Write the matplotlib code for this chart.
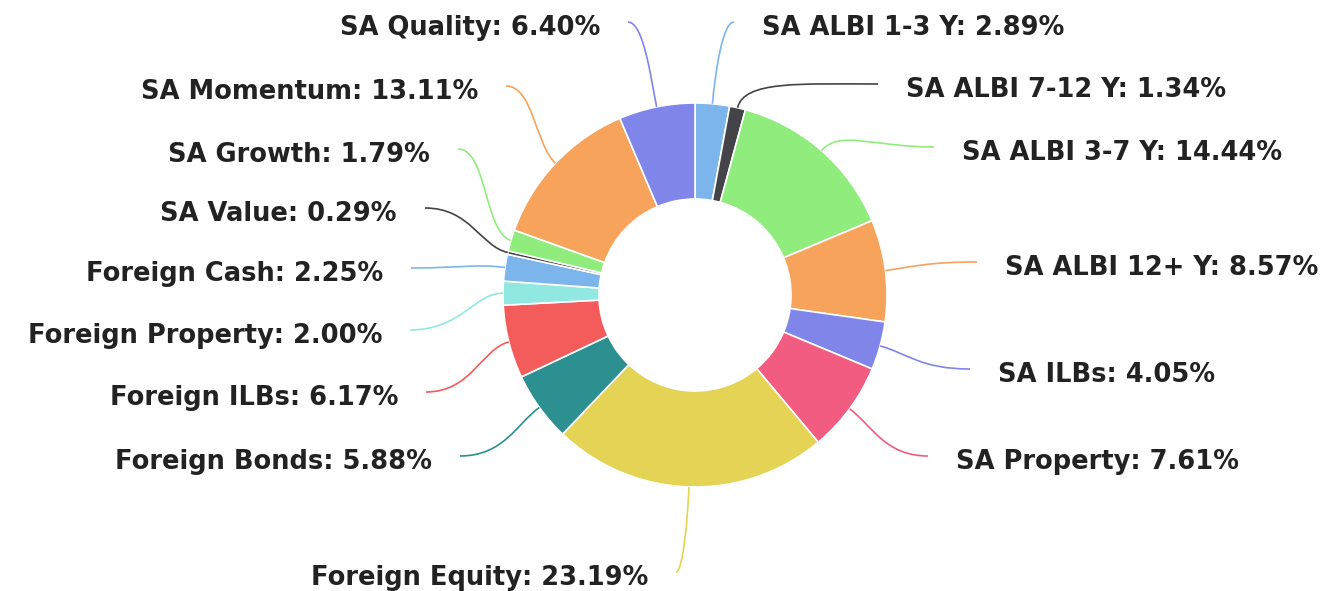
import numpy as np
import matplotlib
matplotlib.use('Agg')
import matplotlib.pyplot as plt
from matplotlib.path import Path
from matplotlib.patches import PathPatch

# data, clockwise from 12 o'clock
names=['SA ALBI 1-3 Y','SA ALBI 7-12 Y','SA ALBI 3-7 Y','SA ALBI 12+ Y','SA ILBs',
  'SA Property','Foreign Equity','Foreign Bonds','Foreign ILBs','Foreign Property',
  'Foreign Cash','SA Value','SA Growth','SA Momentum','SA Quality']
weights=[2.89,1.34,14.44,8.57,4.05,7.61,23.19,5.88,6.17,2.00,2.25,0.29,1.79,13.11,6.40]
colors=['#7cb5ec','#434348','#90ed7d','#f7a35c','#8085e9','#f15c80','#e4d354',
  '#2b908f','#f45b5b','#91e8e1','#7cb5ec','#434348','#90ed7d','#f7a35c','#8085e9']

# layout (pixels, y from top): label anchor x, label y, side (+1 right / -1 left)
W,H=1337,591
CX,CY,R=695,295,192
label_x=[762,906,962,1005,998,956,648,432,398,382,383,397,430,478,600]
label_y=[28,90,153,268,375,462,578,462,398,336,274,214,155,92,28]
side=[1,1,1,1,1,1,-1,-1,-1,-1,-1,-1,-1,-1,-1]

fig=plt.figure(figsize=(W/100,H/100),dpi=100)
ax=fig.add_axes([0,0,1,1])
ax.pie(weights,colors=colors,startangle=90,counterclock=False,center=(CX,H-CY),
  radius=R,wedgeprops=dict(width=R*0.5,edgecolor='white',linewidth=1.2))
ax.set_xlim(0,W); ax.set_ylim(0,H)
ax.set_aspect('equal')
ax.axis('off')

cum=np.cumsum([0]+weights[:-1])
total=sum(weights)
for i,nm in enumerate(names):
  mid=(cum[i]+weights[i]/2)/total*2*np.pi
  dx,dy=np.sin(mid),np.cos(mid)
  ax_,ay_=CX+R*dx,(H-CY)+R*dy
  lx=label_x[i]-28*side[i]
  ly=H-label_y[i]+6
  c1=(lx-side[i]*0.55*abs(lx-ax_),ly)
  c2=(ax_+dx*28,ay_+dy*28)
  p=Path([(lx,ly),c1,c2,(ax_,ay_)],[Path.MOVETO,Path.CURVE4,Path.CURVE4,Path.CURVE4])
  ax.add_patch(PathPatch(p,fill=False,edgecolor=colors[i],lw=1.2))
  ax.text(label_x[i],H-label_y[i],f'{nm}: {weights[i]:.2f}%',
    ha='left' if side[i]>0 else 'right',va='center',fontsize=18.5,
    fontweight='bold',color='#222222')

fig.savefig('out.png',dpi=100)
